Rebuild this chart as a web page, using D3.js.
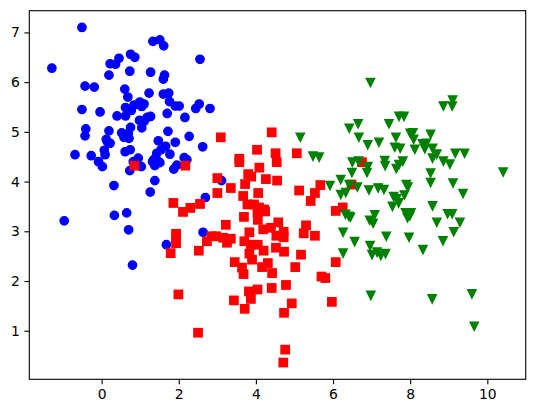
<!DOCTYPE html>
<html>
<head>
<meta charset="utf-8">
<script src="https://cdn.jsdelivr.net/npm/d3@7"></script>
<style>
  body { margin: 0; background: #fff; }
  svg { display: block; font-family: "DejaVu Sans", sans-serif; }
</style>
</head>
<body>
<svg id="scatter" width="534" height="413"></svg>
<script>
// cluster 0, blue circles
const blueX = [-0.51, -1.29, -0.97, -0.69, -0.51, -0.43, -0.19, -0.41, -0.43, -0.27, -0.08, 0.02, -0.04, 0.07, 0.09, 0.12, 0.22, 0.19, 0.19, 0.22,
  0.36, 0.45, 0.40, 0.32, 0.33, 0.52, 0.58, 0.71, 0.69, 0.60, 0.68, 0.62, 0.62, 0.73, 0.75, 0.86, 0.61, 0.74, 0.73, 0.65,
  0.70, 0.80, 0.75, 0.77, 0.84, 0.95, 1.04, 0.99, 1.10, 0.98, 1.10, 1.04, 0.95, 1.03, 0.82, 1.23, 1.27, 1.27, 1.18, 1.33,
  1.51, 1.61, 1.63, 1.60, 1.60, 1.74, 1.76, 1.70, 1.91, 2.01, 2.16, 1.47, 1.72, 1.91, 2.27, 1.66, 1.54, 1.43, 1.77, 1.32,
  1.38, 1.51, 1.38, 1.26, 1.87, 1.95, 2.14, 2.21, 2.44, 2.53, 2.55, 2.81, 2.62, 2.69, 2.63, 1.68, 3.11, 1.35, 1.48, 0.15];
const blueY = [7.10, 6.28, 3.21, 4.54, 5.45, 5.92, 5.90, 5.06, 4.92, 4.52, 4.40, 4.30, 5.40, 4.63, 4.54, 4.85, 4.77, 5.02, 6.14, 6.37,
  6.36, 6.48, 5.32, 3.92, 3.32, 4.98, 4.89, 4.87, 4.97, 5.86, 5.70, 5.49, 5.32, 6.22, 6.56, 6.50, 4.60, 4.64, 4.22, 3.37,
  3.03, 2.32, 5.09, 5.43, 5.54, 5.56, 5.51, 5.60, 5.56, 5.23, 5.21, 5.08, 4.47, 4.30, 4.40, 5.78, 6.20, 5.31, 5.29, 6.82,
  6.85, 6.73, 6.14, 6.06, 5.76, 5.78, 5.61, 5.37, 5.52, 5.52, 5.29, 4.82, 5.01, 4.79, 4.91, 4.71, 4.64, 4.57, 4.55, 4.40,
  4.32, 4.38, 4.02, 3.79, 4.25, 4.33, 4.48, 4.44, 5.47, 5.56, 6.46, 5.47, 4.70, 3.68, 2.98, 2.73, 4.02, 4.44, 4.40, 4.80];

// cluster 1, red squares
const redX = [0.85, 2.17, 3.09, 4.41, 4.03, 3.57, 3.57, 4.51, 4.54, 5.06, 3.00, 3.80, 3.88, 3.72, 4.09, 4.26, 4.55, 3.35, 3.00, 4.06,
  5.12, 5.67, 5.53, 5.42, 1.86, 2.11, 2.30, 2.55, 3.67, 3.78, 3.95, 4.08, 4.21, 4.04, 4.24, 3.69, 4.05, 6.07, 6.25, 3.22,
  4.19, 4.39, 4.58, 4.72, 4.53, 4.72, 5.24, 5.30, 5.53, 1.93, 1.93, 1.93, 2.73, 2.85, 2.97, 3.15, 3.25, 3.35, 3.83, 3.70,
  3.87, 4.05, 4.20, 3.83, 3.90, 4.52, 4.73, 1.79, 2.52, 5.17, 3.45, 3.64, 3.68, 4.31, 4.16, 4.42, 5.02, 6.07, 5.70, 5.80,
  4.78, 4.41, 1.99, 3.82, 4.04, 3.87, 3.43, 3.71, 4.93, 4.73, 5.97, 2.50, 4.76, 4.71, 6.75, 6.48];
const redY = [4.32, 4.32, 4.89, 4.99, 4.64, 4.46, 4.39, 4.57, 4.39, 4.57, 4.07, 4.15, 4.10, 3.95, 4.28, 4.05, 4.02, 3.87, 3.77, 3.77,
  3.82, 3.93, 3.77, 3.61, 3.57, 3.39, 3.47, 3.55, 3.71, 3.54, 3.54, 3.48, 3.44, 3.38, 3.40, 3.29, 3.23, 3.41, 3.48, 3.13,
  3.04, 3.07, 3.18, 2.99, 2.91, 2.88, 2.96, 3.12, 2.91, 2.95, 2.86, 2.76, 2.80, 2.90, 2.90, 2.87, 2.77, 2.85, 2.98, 2.80,
  2.73, 2.73, 2.61, 2.55, 2.43, 2.67, 2.59, 2.56, 2.61, 2.53, 2.38, 2.27, 2.14, 2.36, 2.28, 2.16, 2.28, 2.38, 2.09, 2.06,
  1.92, 1.86, 1.73, 1.79, 1.83, 1.64, 1.61, 1.44, 1.55, 1.36, 1.58, 0.96, 0.62, 0.36, 4.39, 3.94];

// cluster 2, green triangles
const greenX = [6.97, 5.15, 5.48, 5.64, 5.92, 6.42, 6.65, 6.67, 6.90, 7.19, 7.45, 7.71, 7.84, 7.63, 7.60, 7.74, 8.00, 8.07, 8.09, 8.12,
  8.32, 8.42, 8.38, 8.53, 8.58, 8.69, 8.58, 8.86, 9.09, 9.10, 8.86, 9.03, 9.17, 9.41, 10.41, 6.50, 6.66, 6.90, 6.88, 6.49,
  7.34, 7.35, 7.81, 7.71, 7.64, 8.53, 8.53, 9.11, 6.20, 6.42, 6.63, 6.33, 6.20, 6.93, 7.17, 7.32, 7.90, 7.94, 9.37, 7.57,
  7.65, 7.85, 7.70, 7.54, 8.58, 6.32, 6.41, 7.08, 6.95, 7.04, 7.88, 8.02, 7.93, 7.99, 8.97, 9.09, 8.69, 9.29, 6.26, 9.13,
  6.56, 7.38, 7.97, 8.85, 6.96, 7.01, 7.14, 7.24, 7.36, 6.26, 8.33, 6.98, 8.57, 9.60, 9.66, 6.45];
const greenY = [5.99, 4.89, 4.51, 4.49, 3.92, 5.07, 5.16, 4.89, 4.74, 4.79, 5.16, 5.31, 5.31, 4.89, 4.69, 4.67, 4.97, 4.98, 4.85, 4.65,
  4.76, 4.77, 4.66, 4.95, 4.67, 4.55, 4.47, 5.52, 5.52, 5.64, 4.41, 4.35, 4.57, 4.57, 4.19, 4.39, 4.41, 4.30, 4.18, 4.18,
  4.42, 4.32, 4.41, 4.34, 4.26, 4.17, 3.98, 3.97, 4.04, 3.94, 3.89, 3.78, 3.74, 3.83, 3.87, 3.84, 3.94, 3.89, 3.76, 3.70,
  3.65, 3.73, 3.57, 3.50, 3.51, 3.34, 3.30, 3.33, 3.22, 3.16, 3.37, 3.37, 3.27, 3.31, 3.35, 3.35, 3.18, 3.18, 2.98, 2.99,
  2.79, 2.90, 2.88, 2.81, 2.71, 2.53, 2.58, 2.51, 2.55, 2.56, 2.63, 1.71, 1.64, 1.74, 1.09, 3.28];

const xTicks = [0, 2, 4, 6, 8, 10];
const yTicks = [1, 2, 3, 4, 5, 6, 7];

const svg = d3.select("#scatter");
const box = {left: 29.3, right: 525.7, top: 10.7, bottom: 379.3};

const zip = (xs, ys) => xs.map((x, i) => ({x: x, y: ys[i]}));
const blue = zip(blueX, blueY);
const red = zip(redX, redY);
const green = zip(greenX, greenY);
const all = blue.concat(red, green);

// 5% padding like matplotlib autoscale
function padded(ext) {
    const m = (ext[1] - ext[0]) * 0.05;
    return [ext[0] - m, ext[1] + m];
}

const x = d3.scaleLinear()
    .domain(padded(d3.extent(all, d => d.x)))
    .range([box.left, box.right]);

const y = d3.scaleLinear()
    .domain(padded(d3.extent(all, d => d.y)))
    .range([box.bottom, box.top]);

const gPoints = svg.append("g");
const ms = 8.33;   // marker size, 6pt
const ew = 1.39;   // marker edge, 1pt

gPoints.selectAll(".blue")
    .data(blue)
    .join("circle")
    .attr("class", "blue")
    .attr("cx", d => x(d.x))
    .attr("cy", d => y(d.y))
    .attr("r", ms / 2)
    .attr("fill", "#0000ff")
    .attr("stroke", "#0000ff")
    .attr("stroke-width", ew);

gPoints.selectAll(".red")
    .data(red)
    .join("rect")
    .attr("class", "red")
    .attr("x", d => x(d.x) - ms / 2)
    .attr("y", d => y(d.y) - ms / 2)
    .attr("width", ms)
    .attr("height", ms)
    .attr("fill", "#ff0000")
    .attr("stroke", "#ff0000")
    .attr("stroke-width", ew);

// matplotlib "v": apex down, width = height = marker size
const h = ms / 2;
const triPath = `M${-h},${-h}L${h},${-h}L0,${h}Z`;
gPoints.selectAll(".green")
    .data(green)
    .join("path")
    .attr("class", "green")
    .attr("d", triPath)
    .attr("transform", d => `translate(${x(d.x)},${y(d.y)})`)
    .attr("fill", "#008000")
    .attr("stroke", "#008000")
    .attr("stroke-width", ew)
    .attr("stroke-linejoin", "miter");

// axes
const xAxis = d3.axisBottom(x).tickValues(xTicks).tickSize(4.9).tickPadding(4.5);
const yAxis = d3.axisLeft(y).tickValues(yTicks).tickSize(4.9).tickPadding(4.5);

const gx = svg.append("g")
    .attr("transform", `translate(0,${box.bottom})`)
    .call(xAxis);
const gy = svg.append("g")
    .attr("transform", `translate(${box.left},0)`)
    .call(yAxis);

[gx, gy].forEach(g => {
    g.select(".domain").remove();
    g.selectAll(".tick line").attr("stroke", "#000").attr("stroke-width", 1.1);
    g.selectAll(".tick text")
        .attr("fill", "#000")
        .style("font-family", "DejaVu Sans")
        .style("font-size", "13.9px");
});

svg.append("rect")
    .attr("x", box.left)
    .attr("y", box.top)
    .attr("width", box.right - box.left)
    .attr("height", box.bottom - box.top)
    .attr("fill", "none")
    .attr("stroke", "#000")
    .attr("stroke-width", 1.1);
</script>
</body>
</html>
